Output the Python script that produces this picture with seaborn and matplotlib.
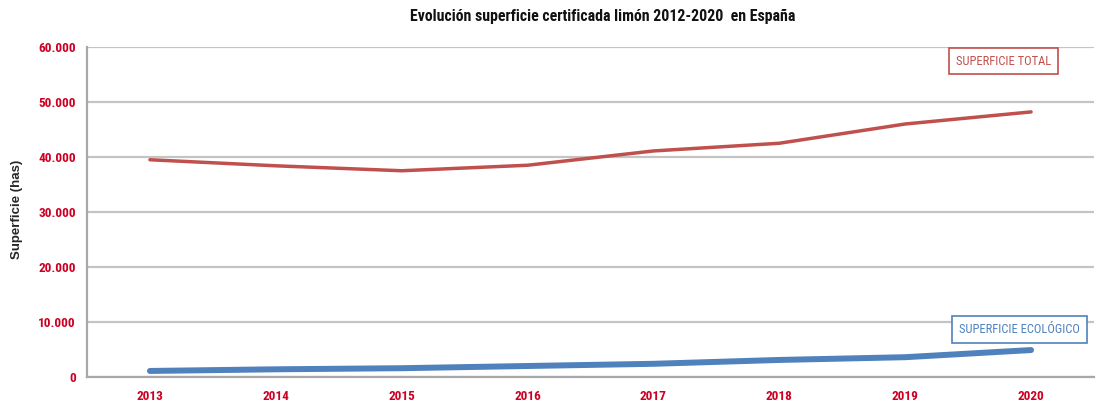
import matplotlib
matplotlib.use("Agg")
import matplotlib.pyplot as plt
import seaborn as sns
import pandas as pd
from matplotlib import font_manager
from matplotlib.ticker import FuncFormatter, FixedLocator

# datos (hectareas)
years = [2013, 2014, 2015, 2016, 2017, 2018, 2019, 2020]
sup_total = [39500, 38400, 37500, 38500, 41100, 42500, 46000, 48200]
sup_eco = [1100, 1400, 1600, 2000, 2400, 3100, 3600, 4900]
y_ticks = [0, 10000, 20000, 30000, 40000, 50000, 60000]

RED = "#C0504D"
BLUE = "#4F81BD"
TICK_RED = "#CC0022"
GRID = "#C4C4C4"

# buscar una fuente estrecha si existe
available = {f.name for f in font_manager.fontManager.ttflist}
narrow = None
for name in ["Liberation Sans Narrow", "DejaVu Sans Condensed", "Roboto Condensed"]:
    if name in available:
        narrow = name
        break
scale = 1.0 if narrow else 0.86
if narrow is None:
    narrow = "Liberation Sans"

sns.set_style("white")
plt.rcParams["font.family"] = [narrow, "DejaVu Sans"]

df = pd.DataFrame({"year": years + years,
                   "value": sup_total + sup_eco,
                   "serie": ["total"] * len(years) + ["eco"] * len(years)})

fig = plt.figure(figsize=(10.96, 4.03), dpi=100)
ax = fig.add_axes([87 / 1096, 1 - 377 / 403, 1007 / 1096, 330 / 403])

sns.lineplot(data=df[df.serie == "total"], x="year", y="value", color=RED,
             linewidth=2.5, ax=ax, legend=False)
sns.lineplot(data=df[df.serie == "eco"], x="year", y="value", color=BLUE,
             linewidth=4.3, ax=ax, legend=False)

ax.set_xlim(years[0] - 0.5, years[-1] + 0.5)
ax.set_ylim(y_ticks[0], y_ticks[-1])
ax.set_yticks(y_ticks)
ax.yaxis.set_major_formatter(FuncFormatter(lambda v, p: f"{int(v):,}".replace(",", ".")))
ax.set_xticks(years)
ax.set_xticklabels([str(y) for y in years])
ax.xaxis.set_minor_locator(FixedLocator([y + 0.5 for y in [years[0] - 1] + years]))

ax.grid(axis="y", color=GRID, linewidth=1.6)
ax.set_axisbelow(True)
for s in ["top", "right"]:
    ax.spines[s].set_visible(False)
for s in ["left", "bottom"]:
    ax.spines[s].set_color("#A8A8A8")
    ax.spines[s].set_linewidth(1.6)

ax.tick_params(axis="x", which="major", length=0, pad=9, labelsize=9.5 * scale,
               labelcolor=TICK_RED)
ax.tick_params(axis="x", which="minor", length=4, width=1, color="#A8A8A8",
               direction="out")
ax.tick_params(axis="y", length=4, width=1, color="#A8A8A8", pad=4,
               labelsize=9.5 * scale, labelcolor=TICK_RED)
for lab in ax.get_xticklabels() + ax.get_yticklabels():
    lab.set_fontweight("bold")

ax.set_xlabel("")
ax.set_ylabel("")
fig.text(17 / 1096, 1 - 209 / 403, "Superficie (has)", rotation=90,
         ha="center", va="center", fontsize=9.5, fontweight="bold",
         family=["Liberation Sans", "DejaVu Sans"])

fig.text(603 / 1096, 1 - 17 / 403,
         "Evolución superficie certificada limón 2012-2020  en España",
         ha="center", va="center", fontsize=11.4 * scale, fontweight="bold",
         color="#111111")

# etiquetas de las series
ax.text(2019.78, 57450, "SUPERFICIE TOTAL", color=RED, fontsize=9 * scale,
        ha="center", va="center",
        bbox=dict(boxstyle="square,pad=0.55", fc="white", ec=RED, lw=1.2))
ax.text(2019.91, 8640, "SUPERFICIE ECOLÓGICO", color=BLUE, fontsize=9 * scale,
        ha="center", va="center",
        bbox=dict(boxstyle="square,pad=0.55", fc="white", ec=BLUE, lw=1.2))

fig.savefig("out.png", dpi=100)
